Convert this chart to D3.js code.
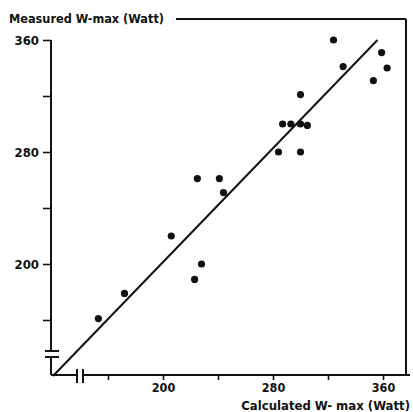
<!DOCTYPE html>
<html>
<head>
<meta charset="utf-8">
<script src="https://cdn.jsdelivr.net/npm/d3@7"></script>
<style>
  html, body { margin: 0; padding: 0; background: #fff; }
  svg text { font-family: "DejaVu Sans", sans-serif; font-stretch: condensed; font-weight: bold; fill: #111; }
</style>
</head>
<body>
<svg id="chart" width="413" height="412"></svg>
<script>
// Calculated vs measured W-max (Watt)
const calculated = [153, 172, 206, 223, 228, 225, 241, 244, 284, 300, 287, 293, 300, 305, 300, 324, 331, 353, 359, 363];
const measured   = [161, 179, 220, 189, 200, 261, 261, 251, 280, 280, 300, 300, 300, 299, 321, 360, 341, 331, 351, 340];

// regression line end points
const fitX = [120, 356];
const fitY = [120, 360];

const tickValues = [160, 200, 240, 280, 320, 360];
const labelledTicks = [200, 280, 360];

const xTitle = "Calculated W- max (Watt)";
const yTitle = "Measured W-max (Watt)";

const svg = d3.select("#chart");
const ink = "#111";

const x = d3.scaleLinear().domain([120, 360]).range([53, 383]);
const y = d3.scaleLinear().domain([120, 360]).range([376, 40]);

const xAxisY = 375;
const yAxisX = 51;

// x axis with ticks below
const xAxis = d3.axisBottom(x)
  .tickValues(tickValues)
  .tickSize(5)
  .tickPadding(3)
  .tickFormat(d => labelledTicks.includes(d) ? d : "");
const gx = svg.append("g").attr("transform", `translate(0,${xAxisY})`).call(xAxis);
gx.select(".domain").remove();
gx.selectAll(".tick line").attr("stroke", ink).attr("stroke-width", 1.6);
gx.selectAll(".tick text").attr("font-size", 12.5).style("fill", ink);

// y axis with ticks to the left
const yAxis = d3.axisLeft(y)
  .tickValues(tickValues)
  .tickSize(8)
  .tickPadding(4)
  .tickFormat(d => labelledTicks.includes(d) ? d : "");
const gy = svg.append("g").attr("transform", `translate(${yAxisX},0)`).call(yAxis);
gy.select(".domain").remove();
gy.selectAll(".tick line").attr("stroke", ink).attr("stroke-width", 1.6);
gy.selectAll(".tick text").attr("font-size", 13).style("fill", ink);

const line = (x1, y1, x2, y2, w = 2) => svg.append("line")
  .attr("x1", x1).attr("y1", y1).attr("x2", x2).attr("y2", y2)
  .attr("stroke", ink).attr("stroke-width", w);

// axis lines with break marks
line(yAxisX, y(360), yAxisX, 351);
line(yAxisX, 357, yAxisX, xAxisY);
line(45, 351, 59, 351, 2);
line(45, 357, 59, 357, 2);

line(yAxisX, xAxisY, 77, xAxisY);
line(83, xAxisY, 410, xAxisY);
line(77, 369, 77, 383, 2);
line(83, 369, 83, 383, 2);

// frame: top and right
line(176, 19, 406, 19);
line(406, 19, 406, xAxisY);

// regression line
line(x(fitX[0]), y(fitY[0]), x(fitX[1]), y(fitY[1]), 2);

// points
svg.append("g").selectAll("circle")
  .data(calculated.map((c, i) => [c, measured[i]]))
  .join("circle")
  .attr("cx", d => x(d[0]))
  .attr("cy", d => y(d[1]))
  .attr("r", 3.6)
  .attr("fill", ink);

// titles
svg.append("text").attr("x", 9).attr("y", 23).attr("font-size", 12.6).text(yTitle);
svg.append("text").attr("x", 410).attr("y", 410).attr("text-anchor", "end").attr("font-size", 13).text(xTitle);
</script>
</body>
</html>
